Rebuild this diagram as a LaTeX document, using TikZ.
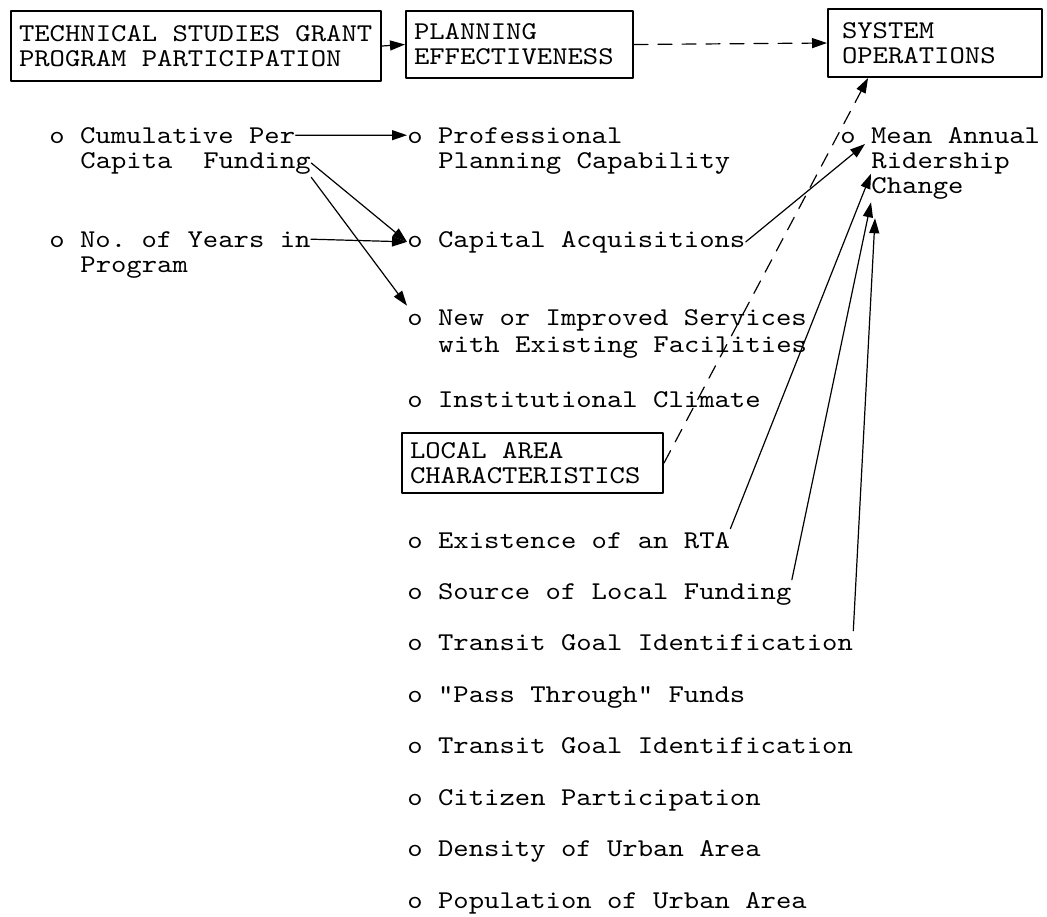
\documentclass[tikz,border=0pt]{standalone}
\usepackage{fontspec}
\setmonofont{lmmono10-regular.otf}[FakeStretch=1.143]
\usetikzlibrary{arrows.meta,calc}

\tikzset{
  box/.style={draw,line width=1pt,anchor=north west,inner xsep=4pt,inner ysep=2pt,align=left,
    execute at begin node={\spaceskip=0pt\xspaceskip=0pt}},
  item/.style={anchor=base west,inner xsep=0pt,inner ysep=1.5pt},
  link/.style={->,line width=0.6pt},
  hint/.style={->,line width=0.6pt,dash pattern=on 7pt off 5pt},
}

\begin{document}
\begin{tikzpicture}[x=0.5pt,y=-0.5pt,>={Triangle[length=7.5pt,width=5pt]},line join=round,line cap=round,
  font=\ttfamily\fontsize{12.8}{12.5}\selectfont]
\useasboundingbox (0,0) rectangle (1047,916);
% headings
\node[box,text width=177pt,minimum height=35pt] (tsg) at (10,10) {TECHNICAL STUDIES GRANT\\PROGRAM PARTICIPATION};
\node[box,text width=105.5pt,minimum height=33.5pt] (plan) at (405,10) {PLANNING\\EFFECTIVENESS};
\node[box,text width=93pt,minimum height=34pt,inner xsep=7pt] (sysop) at (827,8) {SYSTEM\\OPERATIONS};
\node[box,text width=122.5pt,minimum height=30pt] (local) at (401,432) {LOCAL AREA\\CHARACTERISTICS};
% grant program
\node[item] (cumA) at (49,143) {o Cumulative Per};
\node[item] (cumB) at (80,168) {Capita\ \ Funding};
\node[item] (yrsA) at (49,247) {o No. of Years in};
\node[item] (yrsB) at (80,272) {Program};
% planning effectiveness
\node[item] (profA) at (407,143) {o Professional};
\node[item] (profB) at (438,168) {Planning Capability};
\node[item] (capacq) at (407,247) {o Capital Acquisitions};
\node[item] (newA) at (407,325) {o New or Improved Services};
\node[item] (newB) at (438,352) {with Existing Facilities};
\node[item] (inst) at (407,407) {o Institutional Climate};
% local area
\foreach \n/\t/\y in {rta/Existence of an RTA/548, srcfund/Source of Local Funding/599,
  goalA/Transit Goal Identification/650, pass/"Pass Through" Funds/702,
  goalB/Transit Goal Identification/753, citizen/Citizen Participation/805,
  density/Density of Urban Area/856, popul/Population of Urban Area/908}
  \node[item] (\n) at (407,\y) {o \t};
% system operations
\node[item] (meanA) at (840,143) {o Mean Annual};
\node[item] (meanB) at (871,168) {Ridership};
\node[item] (change) at (871,193) {Change};
% links
\draw[link] (tsg.east) -- (plan.west);
\draw[hint] (plan.east) -- (sysop.west);
\draw[link] (cumA.east) -- (profA.west);
\draw[link] (cumB.east) -- (capacq.west);
\draw[link] (cumB.south east) -- (newA.north west);
\draw[link] (yrsA.east) -- (capacq.west);
\draw[link] (capacq.east) -- ($(meanA.base west)+(25,1)$);
\draw[hint] (local.east) -- ($(sysop.south west)!0.19!(sysop.south east)$);
\draw[link] (rta.north east) -- (change.north west);
\draw[link] (srcfund.north east) -- (change.south west);
\draw[link] (goalA.north east) -- ($(change.south west)+(4,16)$);
\end{tikzpicture}
\end{document}
